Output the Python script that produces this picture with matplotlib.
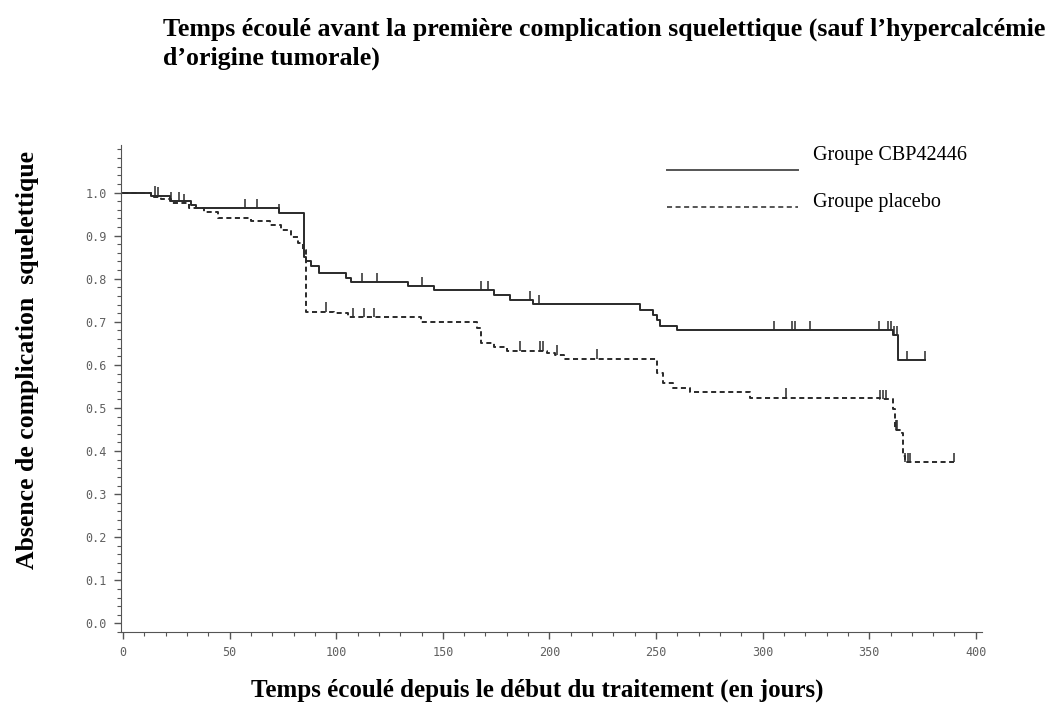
import matplotlib
matplotlib.use("Agg")
import matplotlib.pyplot as plt
from matplotlib.ticker import MultipleLocator
import numpy as np

# Kaplan-Meier steps (days, survival without event)
cbp_days = [0, 13, 22, 32, 34, 73, 85, 86, 88, 92, 104.5, 107, 133.5, 145.7,
            173.8, 181.7, 192.5, 242.6, 248.7, 250.6, 252, 260, 361, 363.5]
cbp_surv = [1.0, 0.993, 0.98, 0.97, 0.963, 0.952, 0.85, 0.84, 0.83, 0.813,
            0.801, 0.792, 0.783, 0.773, 0.762, 0.75, 0.741, 0.727, 0.715,
            0.704, 0.69, 0.681, 0.669, 0.611]
cbp_end = 376
cbp_censor = [15, 22.5, 26, 57, 63, 73, 112, 119, 140, 167.7, 171.4, 191, 195,
              305.4, 313.8, 315.2, 322.2, 354.6, 359, 360, 361.5, 363, 367.7, 376]

pla_days = [0, 13, 18, 22.5, 31, 38, 44.5, 60, 69, 74, 78.7, 82, 84.3, 85.7,
            98.8, 105.4, 139.6, 166, 167.7, 173.8, 180, 199, 202.8, 206.6,
            250.6, 253.4, 258, 266, 294, 355, 361, 362, 365.3, 365.8, 366.7]
pla_surv = [1.0, 0.99, 0.985, 0.975, 0.963, 0.954, 0.942, 0.935, 0.924, 0.912,
            0.896, 0.882, 0.866, 0.723, 0.72, 0.711, 0.70, 0.686, 0.651, 0.642,
            0.633, 0.628, 0.624, 0.614, 0.582, 0.559, 0.547, 0.536, 0.524,
            0.52, 0.497, 0.45, 0.443, 0.388, 0.374]
pla_end = 390
pla_censor = [16.5, 28.6, 95, 108, 113, 117.6, 186.4, 195.8, 197.2, 203.5,
              222.5, 311, 355, 356.5, 358, 362.5, 363, 367, 368, 369, 390]

x_ticks = [0, 50, 100, 150, 200, 250, 300, 350, 400]
y_ticks = [0.0, 0.1, 0.2, 0.3, 0.4, 0.5, 0.6, 0.7, 0.8, 0.9, 1.0]

serif = "Liberation Serif"
dash = (0, (2.6, 1.8))

fig = plt.figure(figsize=(10.49, 7.08), dpi=100)
ax = fig.add_axes([0.1153, 0.1073, 0.821, 0.6877])


def km_line(days, surv, end, censor, style):
    x = np.append(days, end)
    y = np.append(surv, surv[-1])
    ax.plot(x, y, drawstyle="steps-post", color="#2a2a2a", lw=1.4,
            linestyle=style)
    idx = np.searchsorted(days, censor, side="right") - 1
    s = np.asarray(surv)[idx]
    ax.vlines(censor, s, s + 0.022, color="#2a2a2a", lw=1.1)


km_line(cbp_days, cbp_surv, cbp_end, cbp_censor, "-")
km_line(pla_days, pla_surv, pla_end, pla_censor, dash)

ax.set_xlim(-1, 403)
ax.set_ylim(-0.02, 1.11)
ax.set_xticks(x_ticks)
ax.set_yticks(y_ticks)
ax.set_xticklabels([str(v) for v in x_ticks])
ax.set_yticklabels(["%.1f" % v for v in y_ticks])
ax.xaxis.set_minor_locator(MultipleLocator(10))
ax.yaxis.set_minor_locator(MultipleLocator(0.02))
ax.tick_params(which="major", length=5, width=1, color="#555555",
               labelsize=8.5, labelcolor="#606060", pad=5)
ax.tick_params(which="minor", length=3, width=0.8, color="#555555")
for lab in ax.get_xticklabels() + ax.get_yticklabels():
    lab.set_family("DejaVu Sans Mono")
ax.spines["top"].set_visible(False)
ax.spines["right"].set_visible(False)
ax.spines["left"].set_color("#555555")
ax.spines["bottom"].set_color("#555555")

# legend drawn by hand: the line sits lower than its label in the original
tr = ax.transAxes
ax.plot([0.634, 0.786], [0.949, 0.949], transform=tr, color="#555555",
        lw=1.4, clip_on=False)
ax.plot([0.634, 0.786], [0.872, 0.872], transform=tr, color="#555555",
        lw=1.4, linestyle=dash, clip_on=False)
ax.text(0.804, 0.978, "Groupe CBP42446", transform=tr, va="center",
        ha="left", family=serif, fontsize=14.5)
ax.text(0.804, 0.883, "Groupe placebo", transform=tr, va="center",
        ha="left", family=serif, fontsize=14.5)

fig.text(0.155, 0.975,
         "Temps écoulé avant la première complication squelettique (sauf l’hypercalcémie\n"
         "d’origine tumorale)",
         ha="left", va="top", family=serif, weight="bold", fontsize=18.6,
         linespacing=1.3)
fig.text(0.512, 0.0155, "Temps écoulé depuis le début du traitement (en jours)",
         ha="center", va="baseline", family=serif, weight="bold", fontsize=18)
fig.text(0.026, 0.492, "Absence de complication  squelettique", rotation=90,
         ha="center", va="center", family=serif, weight="bold", fontsize=18.5)

fig.savefig("out.png", dpi=100)
